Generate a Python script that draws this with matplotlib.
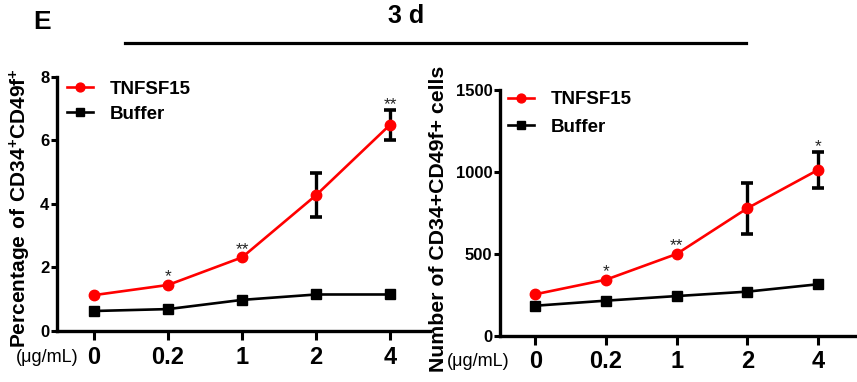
import matplotlib
matplotlib.use("Agg")
import matplotlib.pyplot as plt
import numpy as np

plt.rcParams['font.family'] = ['Liberation Sans', 'DejaVu Sans']
plt.rcParams['font.weight'] = 'bold'
plt.rcParams['mathtext.fontset'] = 'custom'
plt.rcParams['mathtext.bf'] = 'Liberation Sans:bold'
plt.rcParams['mathtext.rm'] = 'Liberation Sans:bold'
plt.rcParams['mathtext.default'] = 'bf'

# doses (categorical)
doses = ['0', '0.2', '1', '2', '4']

# left panel: percentage of CD34+CD49f+
pct_tnf = [1.13, 1.45, 2.32, 4.28, 6.5]
pct_tnf_err = [0, 0, 0, 0.7, 0.47]
pct_buf = [0.63, 0.69, 0.98, 1.15, 1.15]
pct_stars = ['', '*', '**', '', '**']

# right panel: number of CD34+CD49f+ cells
num_tnf = [253, 342, 499, 778, 1012]
num_tnf_err = [0, 0, 0, 157, 110]
num_buf = [183, 214, 242, 269, 314]
num_stars = ['', '*', '**', '', '*']

fig = plt.figure(figsize=(8.57, 3.82), dpi=100)
ax1 = fig.add_axes([0.0665, 0.1335, 0.4355, 0.665])
ax2 = fig.add_axes([0.5834, 0.1212, 0.4156, 0.6432])

x = np.arange(len(doses))


def draw(ax, tnf, err, buf, stars, ymax, yticks, ylabel, ysize, leg_anchor, leg_space):
    tnf = np.array(tnf, dtype=float)
    err = np.array(err, dtype=float)
    has = err > 0
    ax.errorbar(x[has], tnf[has], yerr=err[has], fmt='none', ecolor='black',
                elinewidth=2.4, capsize=4.5, capthick=2.6, zorder=2)
    ax.plot(x, tnf, color='#ff0000', marker='o', markersize=7.5, lw=1.9,
            label='TNFSF15', zorder=3)
    ax.plot(x, buf, color='black', marker='s', markersize=7, lw=1.9,
            label='Buffer', zorder=3)
    for xi, v, e, s in zip(x, tnf, err, stars):
        if s:
            dy = 0.5 if e > 0 else 2.5
            ax.annotate(s, (xi, v + e), xytext=(0, dy), textcoords='offset points',
                        ha='center', va='baseline', fontsize=12.5,
                        fontweight='normal', color='#222222')
    ax.set_xlim(-0.5, 4.54)
    ax.set_ylim(0, ymax)
    ax.set_yticks(yticks)
    ax.set_xticks(x)
    ax.set_xticklabels(doses, fontsize=17, fontweight='bold')
    ax.tick_params(axis='y', labelsize=12, width=2.2, length=4.5, pad=1)
    ax.tick_params(axis='x', width=2.2, length=6.5, pad=4)
    for sp in ['top', 'right']:
        ax.spines[sp].set_visible(False)
    for sp in ['left', 'bottom']:
        ax.spines[sp].set_linewidth(2.4)
    ax.set_ylabel(ylabel, fontsize=ysize, fontweight='bold')
    ax.legend(loc='upper left', bbox_to_anchor=leg_anchor, frameon=False,
              fontsize=13.5, handlelength=1.4, handletextpad=0.9,
              labelspacing=leg_space, borderaxespad=0, borderpad=0,
              markerscale=0.85)


draw(ax1, pct_tnf, pct_tnf_err, pct_buf, pct_stars, 8, [0, 2, 4, 6, 8],
     r'$\mathbf{Percentage\ of\ CD34^{+}CD49f^{+}}$', 15, (0.027, 0.985), 0.42)
draw(ax2, num_tnf, num_tnf_err, num_buf, num_stars, 1500, [0, 500, 1000, 1500],
     'Number of CD34+CD49f+ cells', 15.3, (0.022, 0.996), 0.55)
ax1.yaxis.set_label_coords(-0.064, 0.484)
ax2.yaxis.set_label_coords(-0.146, 0.475)

fig.text(0.018, 0.064, '(\u03bcg/mL)', fontsize=13, fontweight='normal', va='center')
fig.text(0.522, 0.054, '(\u03bcg/mL)', fontsize=13, fontweight='normal', va='center')

fig.text(0.0385, 0.942, 'E', fontsize=19, fontweight='bold', va='center')
fig.text(0.474, 0.958, '3 d', fontsize=18, fontweight='bold', ha='center', va='center')
fig.add_artist(plt.Line2D([0.146, 0.87], [0.888, 0.888], color='black', lw=2.3,
                          transform=fig.transFigure))

fig.savefig('out.png', dpi=100)
